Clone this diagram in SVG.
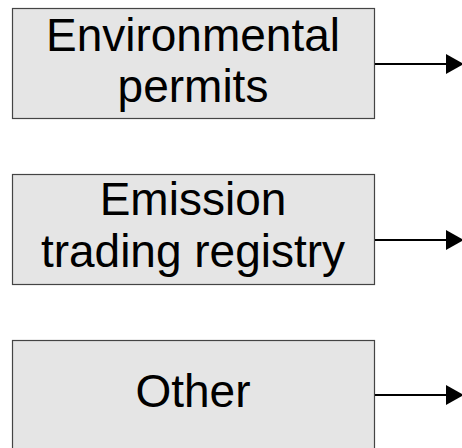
<svg xmlns="http://www.w3.org/2000/svg" width="462" height="448" viewBox="0 0 462 448">
<defs>
<style>
.box{fill:#e5e5e5;stroke:#444;stroke-width:1.2}
.t{font-family:"Liberation Sans",Arial,sans-serif;font-size:46px;fill:#000;text-anchor:middle}
.c{stroke:#000;stroke-width:2;fill:none}
.h{fill:#000}
</style>
</defs>
<rect width="462" height="448" fill="#fff"/>
<g id="n1"><rect class="box" x="12.5" y="8.5" width="362" height="110"/><text class="t" x="193" y="51">Environmental</text><text class="t" x="193" y="102">permits</text></g>
<g id="n2"><rect class="box" x="12.5" y="174.5" width="362" height="110"/><text class="t" x="193" y="215">Emission</text><text class="t" x="193" y="267">trading registry</text></g>
<g id="n3"><rect class="box" x="12.5" y="340.5" width="362" height="120"/><text class="t" x="193" y="407">Other</text></g>
<g id="connectors">
<line class="c" x1="375" y1="64" x2="448" y2="64"/><polygon class="h" points="446,54 464,64 446,74"/>
<line class="c" x1="375" y1="240" x2="448" y2="240"/><polygon class="h" points="446,230 464,240 446,250"/>
<line class="c" x1="375" y1="395" x2="448" y2="395"/><polygon class="h" points="446,385 464,395 446,405"/>
</g>
</svg>
